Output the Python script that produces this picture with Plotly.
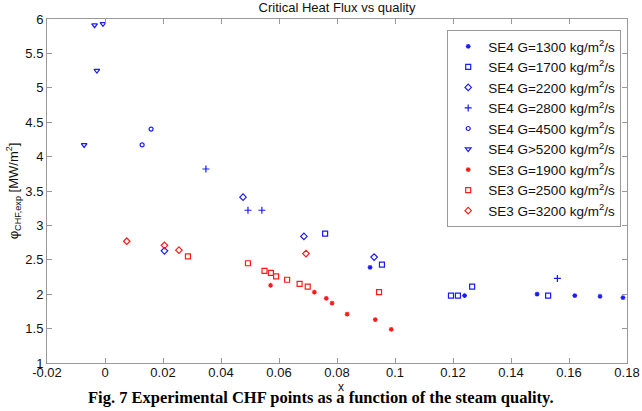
import plotly.graph_objects as go

# Data (x = steam quality, y = CHF [MW/m^2])
se4_1300_x = [0.0914, 0.1240, 0.1490, 0.1620, 0.1707, 0.1786]
se4_1300_y = [2.39, 1.98, 2.00, 1.98, 1.97, 1.95]
se4_1700_x = [0.0759, 0.0955, 0.1193, 0.1217, 0.1266, 0.1528]
se4_1700_y = [2.88, 2.43, 1.98, 1.98, 2.11, 1.98]
se4_2200_x = [0.0205, 0.0476, 0.0686, 0.0928]
se4_2200_y = [2.63, 3.41, 2.84, 2.54]
se4_2800_x = [0.0348, 0.0493, 0.0541, 0.1560]
se4_2800_y = [3.82, 3.22, 3.22, 2.23]
se4_4500_x = [0.0128, 0.0159]
se4_4500_y = [4.17, 4.40]
se4_5200_x = [-0.0072, -0.0036, -0.0007, -0.0028]
se4_5200_y = [4.17, 5.91, 5.93, 5.25]
se3_1900_x = [0.0571, 0.0722, 0.0763, 0.0783, 0.0835, 0.0932, 0.0987]
se3_1900_y = [2.13, 2.03, 1.94, 1.87, 1.71, 1.63, 1.49]
se3_2500_x = [0.0286, 0.0493, 0.0550, 0.0572, 0.0590, 0.0628, 0.0671, 0.0699, 0.0945]
se3_2500_y = [2.55, 2.45, 2.34, 2.31, 2.26, 2.21, 2.15, 2.11, 2.03]
se3_3200_x = [0.0075, 0.0205, 0.0255, 0.0693]
se3_3200_y = [2.77, 2.71, 2.64, 2.59]

x_ticks = [-0.02, 0, 0.02, 0.04, 0.06, 0.08, 0.1, 0.12, 0.14, 0.16, 0.18]
x_tick_labels = ["-0.02", "0", "0.02", "0.04", "0.06", "0.08", "0.1", "0.12", "0.14", "0.16", "0.18"]
y_ticks = [1, 1.5, 2, 2.5, 3, 3.5, 4, 4.5, 5, 5.5, 6]
y_tick_labels = ["1", "1.5", "2", "2.5", "3", "3.5", "4", "4.5", "5", "5.5", "6"]

BLUE = "#1a1aff"
RED = "#ff1a1a"

series = [
    ("SE4 G=1300 kg/m<sup>2</sup>/s", se4_1300_x, se4_1300_y, "asterisk-open", BLUE, 4),
    ("SE4 G=1700 kg/m<sup>2</sup>/s", se4_1700_x, se4_1700_y, "square-open", BLUE, 5),
    ("SE4 G=2200 kg/m<sup>2</sup>/s", se4_2200_x, se4_2200_y, "diamond-open", BLUE, 5),
    ("SE4 G=2800 kg/m<sup>2</sup>/s", se4_2800_x, se4_2800_y, "cross-thin-open", BLUE, 5),
    ("SE4 G=4500 kg/m<sup>2</sup>/s", se4_4500_x, se4_4500_y, "circle-open", BLUE, 4),
    ("SE4 G>5200 kg/m<sup>2</sup>/s", se4_5200_x, se4_5200_y, "triangle-down-open", BLUE, 5),
    ("SE3 G=1900 kg/m<sup>2</sup>/s", se3_1900_x, se3_1900_y, "asterisk-open", RED, 4),
    ("SE3 G=2500 kg/m<sup>2</sup>/s", se3_2500_x, se3_2500_y, "square-open", RED, 5),
    ("SE3 G=3200 kg/m<sup>2</sup>/s", se3_3200_x, se3_3200_y, "diamond-open", RED, 5),
]

fig = go.Figure()
for name, xs, ys, sym, col, sz in series:
    fig.add_trace(go.Scatter(
        x=xs, y=ys, mode="markers", name=name,
        marker=dict(symbol=sym, color=col, size=sz, line=dict(color=col, width=1.2)),
    ))

axis_common = dict(
    showgrid=False, zeroline=False, showline=True, linecolor="#999999", linewidth=1,
    mirror="ticks", ticks="inside", ticklen=5, tickcolor="#999999",
    tickfont=dict(family="Liberation Sans, Arial", size=13, color="#111111"),
    automargin=False,
)

fig.update_layout(
    width=642, height=411,
    autosize=False,
    margin=dict(l=47, r=15, t=19, b=48, autoexpand=False),
    paper_bgcolor="white", plot_bgcolor="white",
    showlegend=True,
    title=dict(text="Critical Heat Flux vs quality", xref="paper", x=0.5, xanchor="center",
               yref="container", y=0.981, yanchor="middle", automargin=False,
               font=dict(family="Liberation Sans, Arial", size=13, color="#111111")),
    xaxis=dict(range=[-0.02, 0.18], tickvals=x_ticks, ticktext=x_tick_labels,
               ticklabelstandoff=-3, **axis_common),
    yaxis=dict(range=[1, 6], tickvals=y_ticks, ticktext=y_tick_labels, **axis_common),
    legend=dict(x=0.99, y=0.968, xanchor="right", yanchor="top",
                bgcolor="white", bordercolor="#999999", borderwidth=1,
                font=dict(family="Liberation Sans, Arial", size=13.5, color="#111111"),
                tracegroupgap=0, itemwidth=30),
)

fig.add_annotation(text="x", xref="paper", yref="paper", x=0.507, y=-0.045,
                   xanchor="center", yanchor="top", showarrow=False,
                   font=dict(family="Liberation Sans, Arial", size=12, color="#111111"))
fig.add_annotation(text="φ<sub>CHF,exp</sub> [MW/m<sup>2</sup>]", xref="paper", yref="paper",
                   x=-0.058, y=0.5, textangle=-90, xanchor="center", yanchor="middle",
                   showarrow=False,
                   font=dict(family="Liberation Sans, Arial", size=13, color="#111111"))
fig.add_annotation(text="<b>Fig. 7 Experimental CHF points as a function of the steam quality.</b>",
                   xref="paper", yref="paper", x=0.472, y=-0.068, xanchor="center", yanchor="top",
                   showarrow=False,
                   font=dict(family="Liberation Serif, Times New Roman", size=16.5, color="#000000"))

fig.write_html("out.html", config={"displayModeBar": False},
               post_script="document.body.style.margin='0';document.body.style.overflow='hidden';")
